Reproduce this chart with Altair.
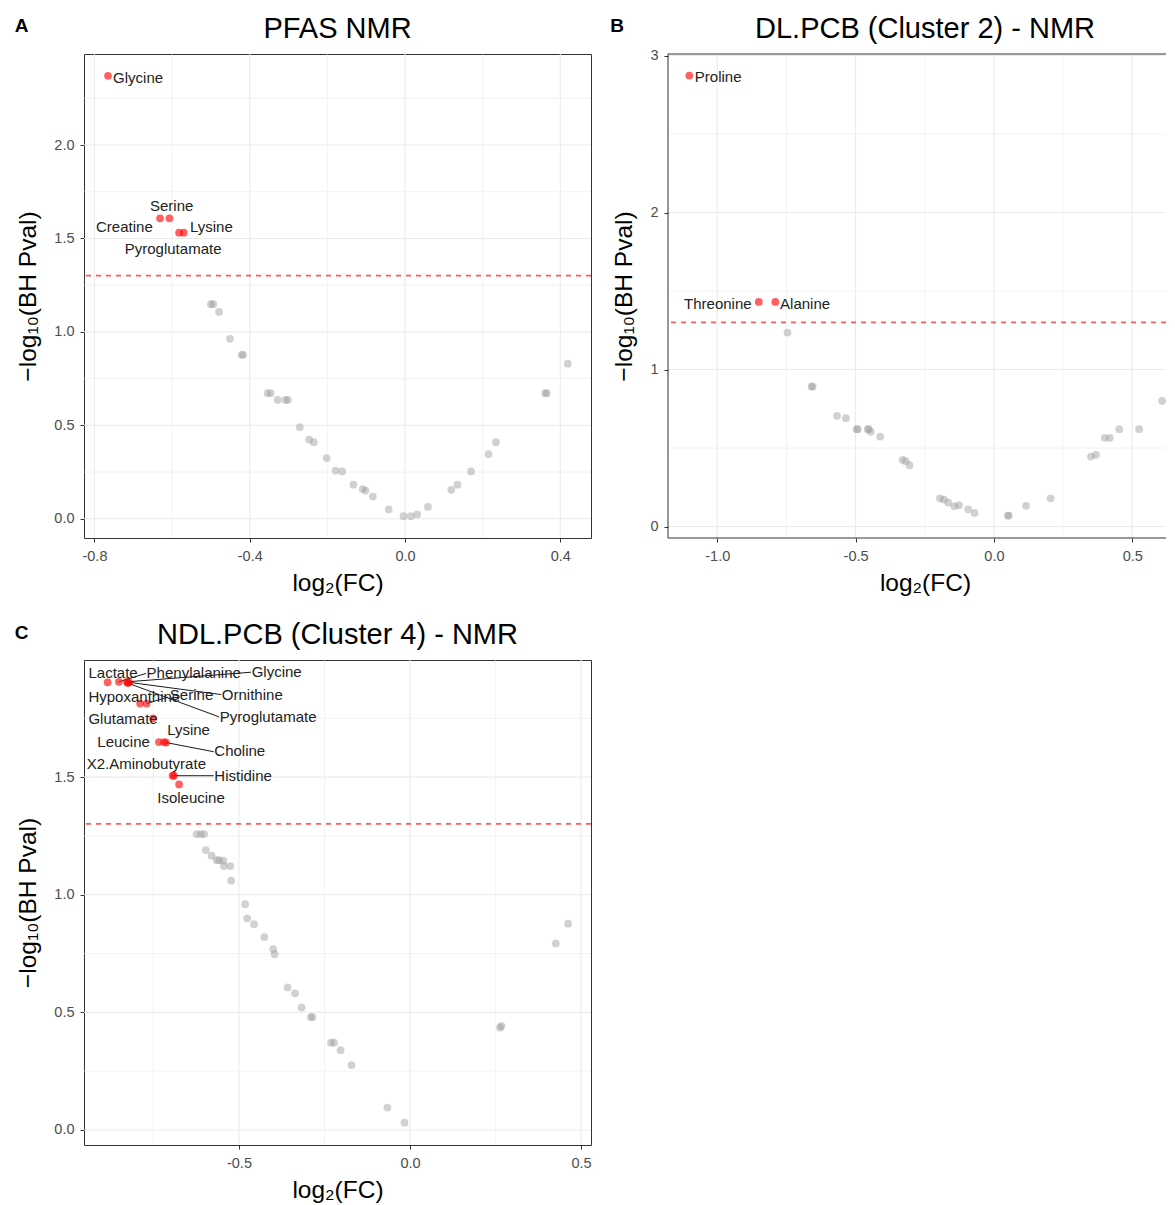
import altair as alt
import pandas as pd

FONT = "Liberation Sans"
P_CUTOFF = 1.30103  # -log10(0.05)

# ---------------- Panel A : PFAS NMR ----------------
a_gray_fc = [-0.500, -0.494, -0.479, -0.451, -0.421, -0.417, -0.354, -0.346, -0.328,
             -0.308, -0.302, -0.271, -0.247, -0.235, -0.202, -0.179, -0.162, -0.133,
             -0.109, -0.102, -0.083, -0.042, -0.004, 0.015, 0.031, 0.059, 0.119,
             0.135, 0.170, 0.215, 0.234, 0.361, 0.365, 0.419]
a_gray_p = [1.148, 1.148, 1.107, 0.963, 0.877, 0.877, 0.672, 0.672, 0.636,
            0.636, 0.636, 0.490, 0.424, 0.410, 0.325, 0.258, 0.253, 0.182,
            0.159, 0.151, 0.119, 0.050, 0.014, 0.014, 0.023, 0.063, 0.155,
            0.182, 0.253, 0.346, 0.410, 0.672, 0.672, 0.830]
a_sig_names = ["Glycine", "Creatine", "Serine", "Lysine", "Pyroglutamate"]
a_sig_fc = [-0.765, -0.631, -0.607, -0.582, -0.570]
a_sig_p = [2.370, 1.608, 1.608, 1.531, 1.531]
a_lab_fc = [-0.752, -0.796, -0.657, -0.554, -0.722]
a_lab_p = [2.357, 1.563, 1.675, 1.563, 1.444]

# ---------------- Panel B : DL.PCB (Cluster 2) - NMR ----------------
b_gray_fc = [-0.746, -0.659, -0.655, -0.567, -0.535, -0.496, -0.492, -0.456, -0.452,
             -0.445, -0.411, -0.330, -0.319, -0.305, -0.195, -0.181, -0.165, -0.143,
             -0.126, -0.093, -0.070, 0.050, 0.054, 0.116, 0.205, 0.351, 0.369,
             0.401, 0.419, 0.453, 0.525, 0.608]
b_gray_p = [1.236, 0.892, 0.892, 0.705, 0.690, 0.620, 0.620, 0.620, 0.620,
            0.603, 0.573, 0.425, 0.416, 0.391, 0.180, 0.172, 0.153, 0.129,
            0.136, 0.110, 0.087, 0.070, 0.070, 0.132, 0.180, 0.446, 0.457,
            0.565, 0.565, 0.620, 0.620, 0.801]
b_sig_names = ["Proline", "Threonine", "Alanine"]
b_sig_fc = [-1.101, -0.850, -0.790]
b_sig_p = [2.873, 1.431, 1.431]
b_lab_fc = [-1.081, -1.120, -0.773]
b_lab_p = [2.862, 1.420, 1.420]

# ---------------- Panel C : NDL.PCB (Cluster 4) - NMR ----------------
c_gray_fc = [-0.624, -0.612, -0.602, -0.597, -0.580, -0.565, -0.558, -0.546, -0.544,
             -0.525, -0.523, -0.482, -0.476, -0.456, -0.426, -0.400, -0.396, -0.358,
             -0.336, -0.317, -0.290, -0.285, -0.231, -0.222, -0.203, -0.171, -0.066,
             -0.016, 0.263, 0.267, 0.426, 0.462]
c_gray_p = [1.258, 1.258, 1.258, 1.190, 1.166, 1.147, 1.147, 1.145, 1.122,
            1.122, 1.060, 0.960, 0.900, 0.875, 0.820, 0.769, 0.747, 0.606,
            0.581, 0.521, 0.480, 0.480, 0.371, 0.371, 0.339, 0.276, 0.095,
            0.031, 0.435, 0.442, 0.793, 0.877]
c_sig_names = ["Lactate", "Phenylalanine", "Glycine", "Ornithine", "Pyroglutamate",
               "Hypoxanthine", "Serine", "Glutamate", "Leucine", "Lysine", "Choline",
               "X2.Aminobutyrate", "Histidine", "Isoleucine"]
c_sig_fc = [-0.884, -0.851, -0.828, -0.821, -0.825, -0.789, -0.770, -0.751, -0.734,
            -0.719, -0.713, -0.694, -0.690, -0.675]
c_sig_p = [1.903, 1.905, 1.905, 1.903, 1.900, 1.813, 1.813, 1.750, 1.649, 1.649,
           1.647, 1.506, 1.506, 1.469]
c_lab_fc = [-0.940, -0.770, -0.463, -0.550, -0.556, -0.940, -0.702, -0.940, -0.914,
            -0.710, -0.572, -0.945, -0.572, -0.739]
c_lab_p = [1.943, 1.943, 1.947, 1.851, 1.756, 1.841, 1.851, 1.749, 1.650, 1.700,
           1.610, 1.554, 1.506, 1.410]
# repel segments: label name -> end of segment (label edge)
c_seg_names = ["Phenylalanine", "Glycine", "Ornithine", "Pyroglutamate", "Serine",
               "Choline", "Histidine"]
c_seg_end_fc = [-0.772, -0.465, -0.552, -0.558, -0.708, -0.574, -0.574]
c_seg_end_p = [1.941, 1.946, 1.851, 1.756, 1.840, 1.608, 1.506]

MINUS_FIX = "replace(datum.label, '\u2212', '-')"


def panel(gray_fc, gray_p, names, sig_fc, sig_p, lab_fc, lab_p,
          xdom, ydom, xmajor, xminor, ymajor, yminor, xfmt, yfmt,
          title, letter, letter_xy, width, height, seg=None, title_x=None,
          frame=True):
    xs = alt.Scale(domain=xdom, nice=False, zero=False)
    ys = alt.Scale(domain=ydom, nice=False, zero=False)
    tx = width / 2 if title_x is None else title_x
    xax = alt.Axis(values=xmajor, format=xfmt, labelExpr=MINUS_FIX,
                   title="log\u2082(FC)", labelPadding=7, titlePadding=9,
                   titleX=tx, titleAlign="center")
    yax = alt.Axis(values=ymajor, format=yfmt, labelExpr=MINUS_FIX,
                   title="\u2212log\u2081\u2080(BH Pval)", labelPadding=6,
                   titlePadding=13)

    def X(f):
        return alt.X(f, scale=xs, axis=xax)

    def Y(f):
        return alt.Y(f, scale=ys, axis=yax)

    gray = pd.DataFrame({"fc": gray_fc, "p": gray_p})
    sig = pd.DataFrame({"name": names, "fc": sig_fc, "p": sig_p,
                        "lfc": lab_fc, "lp": lab_p})

    layers = []
    # grid (minor then major)
    for vals, w in ((xminor, 0.6), (xmajor, 1.1)):
        layers.append(alt.Chart(pd.DataFrame({"v": vals})).mark_rule(
            color="#ebebeb", strokeWidth=w).encode(x=X("v:Q")))
    for vals, w in ((yminor, 0.6), (ymajor, 1.1)):
        layers.append(alt.Chart(pd.DataFrame({"v": vals})).mark_rule(
            color="#ebebeb", strokeWidth=w).encode(y=Y("v:Q")))

    # non-significant points
    layers.append(alt.Chart(gray).mark_circle(
        color="#999999", opacity=0.45, size=60).encode(x=X("fc:Q"), y=Y("p:Q")))

    # significance threshold
    layers.append(alt.Chart(pd.DataFrame({"thr": [P_CUTOFF]})).mark_rule(
        color="red", opacity=0.65, strokeWidth=1.8, strokeDash=[5, 5]).encode(
        y=Y("thr:Q")))

    # repel segments
    if seg is not None:
        seg_names, seg_fc, seg_p = seg
        pos = {n: (f, p) for n, f, p in zip(names, sig_fc, sig_p)}
        sdf = pd.DataFrame({
            "fc": [pos[n][0] for n in seg_names],
            "p": [pos[n][1] for n in seg_names],
            "efc": seg_fc, "ep": seg_p})
        layers.append(alt.Chart(sdf).mark_rule(color="#1a1a1a", strokeWidth=1).encode(
            x=X("fc:Q"), y=Y("p:Q"), x2="efc:Q", y2="ep:Q"))

    # significant points
    layers.append(alt.Chart(sig).mark_circle(
        color="red", opacity=0.62, size=60).encode(x=X("fc:Q"), y=Y("p:Q")))

    # labels
    layers.append(alt.Chart(sig).mark_text(
        align="left", baseline="middle", font=FONT, fontSize=15,
        color="#222222").encode(x=X("lfc:Q"), y=Y("lp:Q"), text="name:N"))

    # frame for a panel whose right side runs off the page
    if not frame:
        fr = pd.DataFrame({"k": [0]})
        layers.append(alt.Chart(fr).mark_rule(color="#333333", strokeWidth=1).encode(
            x=alt.value(0), y=alt.value(0), y2=alt.value(height)))
        layers.append(alt.Chart(fr).mark_rule(color="#333333", strokeWidth=1).encode(
            x=alt.value(0), x2=alt.value(width), y=alt.value(0)))
        layers.append(alt.Chart(fr).mark_rule(color="#333333", strokeWidth=1).encode(
            x=alt.value(0), x2=alt.value(width), y=alt.value(height)))

    # panel title
    layers.append(alt.Chart(pd.DataFrame({"t": [title]})).mark_text(
        font=FONT, fontSize=29, align="center", baseline="alphabetic",
        color="black").encode(
        text="t:N", x=alt.value(tx), y=alt.value(-16)))

    # panel letter
    layers.append(alt.Chart(pd.DataFrame({"t": [letter]})).mark_text(
        font=FONT, fontSize=19, fontWeight="bold", align="center",
        baseline="middle", color="black").encode(
        text="t:N", x=alt.value(letter_xy[0]), y=alt.value(letter_xy[1])))

    ch = alt.layer(*layers).properties(width=width, height=height)
    if not frame:
        ch = ch.properties(view=alt.ViewBackground(strokeOpacity=0))
    return ch


A = panel(a_gray_fc, a_gray_p, a_sig_names, a_sig_fc, a_sig_p, a_lab_fc, a_lab_p,
          xdom=[-0.827, 0.479], ydom=[-0.103, 2.487],
          xmajor=[-0.8, -0.4, 0.0, 0.4], xminor=[-0.6, -0.2, 0.2],
          ymajor=[0.0, 0.5, 1.0, 1.5, 2.0], yminor=[0.25, 0.75, 1.25, 1.75, 2.25],
          xfmt=".1f", yfmt=".1f", title="PFAS NMR", letter="A",
          letter_xy=(-62.5, -28.5), width=507, height=484)

B = panel(b_gray_fc, b_gray_p, b_sig_names, b_sig_fc, b_sig_p, b_lab_fc, b_lab_p,
          xdom=[-1.178, 0.622], ydom=[-0.073, 3.01],
          xmajor=[-1.0, -0.5, 0.0, 0.5], xminor=[-0.75, -0.25, 0.25],
          ymajor=[0, 1, 2, 3], yminor=[0.5, 1.5, 2.5],
          xfmt=".1f", yfmt="d", title="DL.PCB (Cluster 2) - NMR", letter="B",
          letter_xy=(-51, -28.5), width=498, height=484, title_x=257, frame=False)

C = panel(c_gray_fc, c_gray_p, c_sig_names, c_sig_fc, c_sig_p, c_lab_fc, c_lab_p,
          xdom=[-0.953, 0.529], ydom=[-0.064, 1.998],
          xmajor=[-0.5, 0.0, 0.5], xminor=[-0.75, -0.25, 0.25],
          ymajor=[0.0, 0.5, 1.0, 1.5], yminor=[0.25, 0.75, 1.25, 1.75],
          xfmt=".1f", yfmt=".1f", title="NDL.PCB (Cluster 4) - NMR", letter="C",
          letter_xy=(-62.5, -27.5), width=507, height=485,
          seg=(c_seg_names, c_seg_end_fc, c_seg_end_p))

chart = alt.vconcat(
    alt.hconcat(A, B, spacing=17),
    C,
    spacing=24,
).properties(
    padding={"left": 6, "top": 6, "right": 0, "bottom": 0},
).configure_view(
    stroke="#333333", strokeWidth=1,
).configure_axis(
    grid=False, domain=False, tickColor="#333333", tickSize=4, tickWidth=1,
    labelFont=FONT, labelFontSize=14.5, labelColor="#4d4d4d",
    titleFont=FONT, titleFontSize=24.5, titleFontWeight="normal", titleColor="black",
)

chart.save("out.html", embed_options={"renderer": "svg", "actions": False})
